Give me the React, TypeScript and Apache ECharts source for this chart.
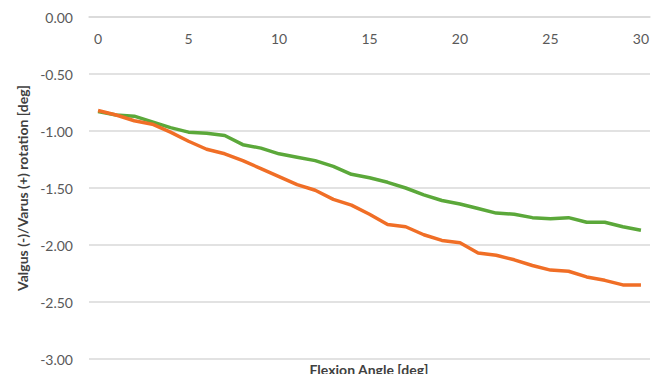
import React, { useEffect, useRef } from "react";
import * as echarts from "echarts";

const angles: string[] = Array.from({ length: 31 }, (_, i) => String(i));
const greenSeries: number[] = [
  -0.83, -0.86, -0.87, -0.92, -0.97, -1.01, -1.02, -1.04, -1.12, -1.15, -1.2,
  -1.23, -1.26, -1.31, -1.38, -1.41, -1.45, -1.5, -1.56, -1.61, -1.64, -1.68,
  -1.72, -1.73, -1.76, -1.77, -1.76, -1.8, -1.8, -1.84, -1.87,
];
const orangeSeries: number[] = [
  -0.82, -0.86, -0.91, -0.94, -1.01, -1.09, -1.16, -1.2, -1.26, -1.33, -1.4,
  -1.47, -1.52, -1.6, -1.65, -1.73, -1.82, -1.84, -1.91, -1.96, -1.98, -2.07,
  -2.09, -2.13, -2.18, -2.22, -2.23, -2.28, -2.31, -2.35, -2.35,
];
const yAxisTitle = "Valgus (-)/Varus (+) rotation [deg]";
const xAxisTitle = "Flexion Angle [deg]";

export default function App() {
  const ref = useRef<HTMLDivElement>(null);
  useEffect(() => {
    if (!ref.current) return;
    const chart = echarts.init(ref.current, null, { renderer: "svg" });
    const font = "Lato, 'Open Sans', sans-serif";
    chart.setOption({
      animation: false,
      backgroundColor: "#ffffff",
      grid: { left: 89, right: 13, top: 17, bottom: 23, containLabel: false },
      xAxis: {
        type: "category",
        position: "top",
        data: angles,
        boundaryGap: true,
        axisLine: { onZero: false, lineStyle: { color: "#d9d9d9", width: 1.5 } },
        axisTick: { show: false },
        axisLabel: {
          inside: true,
          interval: 4,
          color: "#595959",
          fontSize: 14,
          fontFamily: font,
          margin: 14,
        },
      },
      yAxis: {
        type: "value",
        min: -3,
        max: 0,
        interval: 0.5,
        name: yAxisTitle,
        nameLocation: "middle",
        nameGap: 58,
        nameTextStyle: {
          color: "#404040",
          fontSize: 14,
          fontWeight: "bold",
          fontFamily: font,
        },
        axisLine: { show: false },
        axisTick: { show: false },
        axisLabel: {
          color: "#595959",
          fontSize: 14,
          fontFamily: font,
          margin: 16,
          formatter: (v: number) => v.toFixed(2),
        },
        splitLine: { lineStyle: { color: "#d9d9d9", width: 1.5 } },
      },
      graphic: [
        {
          type: "text",
          x: 369,
          y: 369,
          style: {
            text: xAxisTitle,
            fill: "#404040",
            font: `bold 14px ${font}`,
            textAlign: "center",
            textVerticalAlign: "middle",
          },
        },
      ],
      series: [
        {
          type: "line",
          data: greenSeries,
          showSymbol: false,
          lineStyle: { color: "#5ba83a", width: 3.5 },
          itemStyle: { color: "#5ba83a" },
        },
        {
          type: "line",
          data: orangeSeries,
          showSymbol: false,
          lineStyle: { color: "#f06e26", width: 3.5 },
          itemStyle: { color: "#f06e26" },
        },
      ],
    });
    return () => chart.dispose();
  }, []);
  return <div ref={ref} style={{ width: 663, height: 382, margin: -8 }} />;
}
